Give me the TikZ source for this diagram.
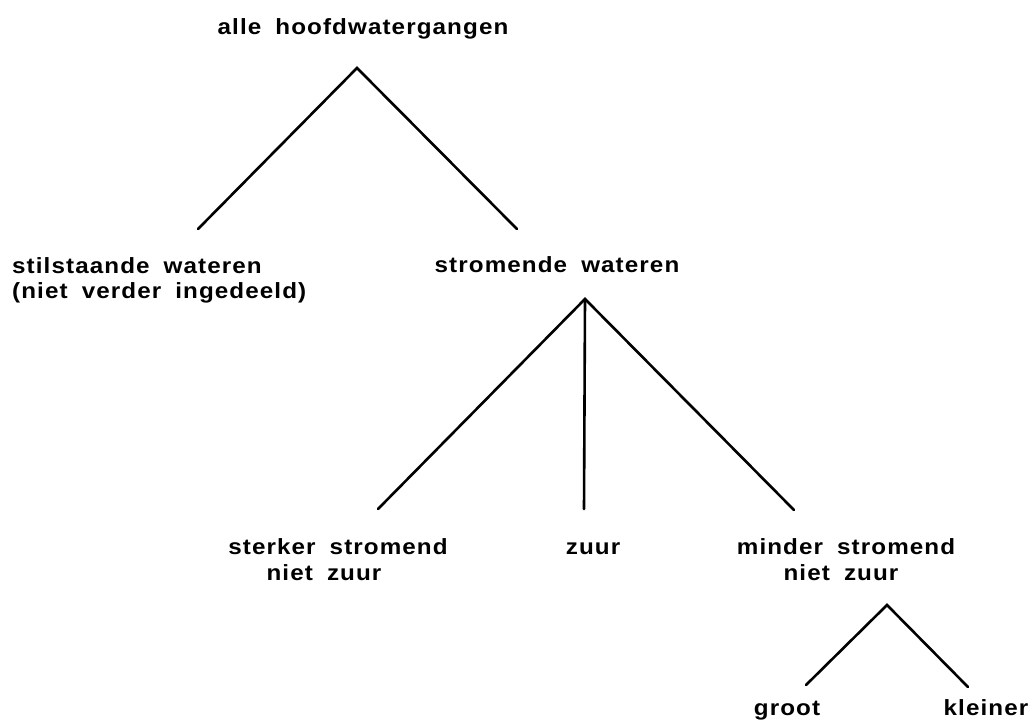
\documentclass[tikz,border=0pt]{standalone}
\usepackage{fontspec}
\setmainfont{Liberation Sans}[FakeStretch=1.1,LetterSpace=5,WordSpace=1.8]
\begin{document}
\begin{tikzpicture}[x=1pt,y=-1pt,
  lbl/.style={inner sep=0pt,anchor=base,font=\bfseries\fontsize{22}{26}\selectfont},
  lbll/.style={lbl,anchor=base west},
  branch/.style={line width=2.6pt,line cap=round}]
\useasboundingbox (0,0) rectangle (1033,721);
% labels, placed on their baselines
\node[lbl] (root) at (363,34) {alle hoofdwatergangen};
\node[lbll] (stil1) at (12,273) {stilstaande wateren};
\node[lbll] (stil2) at (12,298) {(niet verder ingedeeld)};
\node[lbl] (strom) at (557,272) {stromende wateren};
\node[lbl] (sterk1) at (338,554) {sterker stromend};
\node[lbl] (sterk2) at (324,580) {niet zuur};
\node[lbl] (zuur) at (593,554) {zuur};
\node[lbl] (minder1) at (846,554) {minder stromend};
\node[lbl] (minder2) at (841,580) {niet zuur};
\node[lbl] (groot) at (787,715) {groot};
\node[lbl] (klein) at (986,715) {kleiner};
% branch points and branch ends
\coordinate (a1) at (357,68);
\coordinate (a1l) at (198,229);
\coordinate (a1r) at (517,229);
\coordinate (a2) at (585,299);
\coordinate (a2l) at (378,509);
\coordinate (a2m) at (584,509);
\coordinate (a2r) at (794,510);
\coordinate (a3) at (887,605);
\coordinate (a3l) at (806,685);
\coordinate (a3r) at (968,687);
% branches
\draw[branch] (a1l) -- (a1) -- (a1r);
\draw[branch] (a2l) -- (a2) -- (a2r);
\draw[branch] (a2) -- (a2m);
\draw[branch] (a3l) -- (a3) -- (a3r);
\end{tikzpicture}
\end{document}
